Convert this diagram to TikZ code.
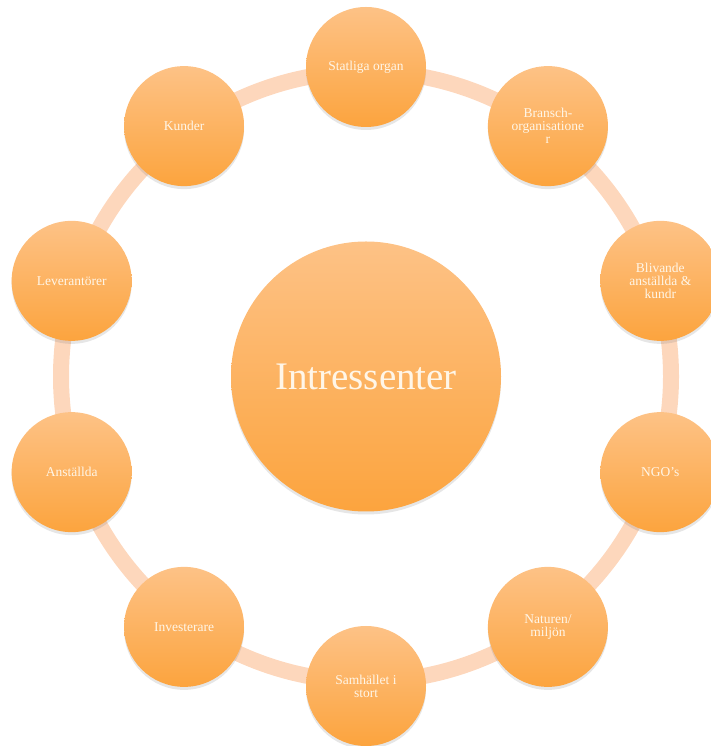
\documentclass[tikz,border=0pt]{standalone}
\usepackage{fontspec}
\setmainfont{Liberation Serif}
\usetikzlibrary{shadows,calc}
\definecolor{ringcol}{RGB}{253,215,188}
\definecolor{orangetop}{RGB}{253,194,134}
\definecolor{orangebot}{RGB}{252,164,62}
\definecolor{textcol}{RGB}{255,246,232}
\tikzset{
  ball/.style={circle, minimum size=120pt, inner sep=0pt, align=center,
    top color=orangetop, bottom color=orangebot, text=textcol,
    font=\fontsize{13.5}{13}\selectfont,
    drop shadow={opacity=0.2, shadow xshift=0pt, shadow yshift=-3pt}},
  hub/.style={ball, minimum size=270pt, font=\fontsize{39}{40}\selectfont}
}
\begin{document}
\begin{tikzpicture}[x=1pt,y=1pt]
			\useasboundingbox (0,0) rectangle (710,746);
			\coordinate (o) at (366,369.5);
			\draw[ringcol, line width=16pt] (o) circle (305);
			
			\node[hub] (hub) at (o) {Intressenter};
			\node[ball] (a) at ($(o)+(90:309.5)$) {Statliga organ};
			\node[ball] (b) at ($(o)+(54:309.5)$) {Bransch-\\organisatione\\r};
			\node[ball] (c) at ($(o)+(18:309.5)$) {Blivande\\anställda \&\\kundr};
			\node[ball] (d) at ($(o)+(-18:309.5)$) {NGO's};
			\node[ball] (e) at ($(o)+(-54:309.5)$) {Naturen/\\miljön};
			\node[ball] (f) at ($(o)+(-90:309.5)$) {Samhället i\\stort};
			\node[ball] (g) at ($(o)+(-126:309.5)$) {Investerare};
			\node[ball] (h) at ($(o)+(-162:309.5)$) {Anställda};
			\node[ball] (i) at ($(o)+(162:309.5)$) {Leverantörer};
			\node[ball] (j) at ($(o)+(126:309.5)$) {Kunder};
\end{tikzpicture}
\end{document}
